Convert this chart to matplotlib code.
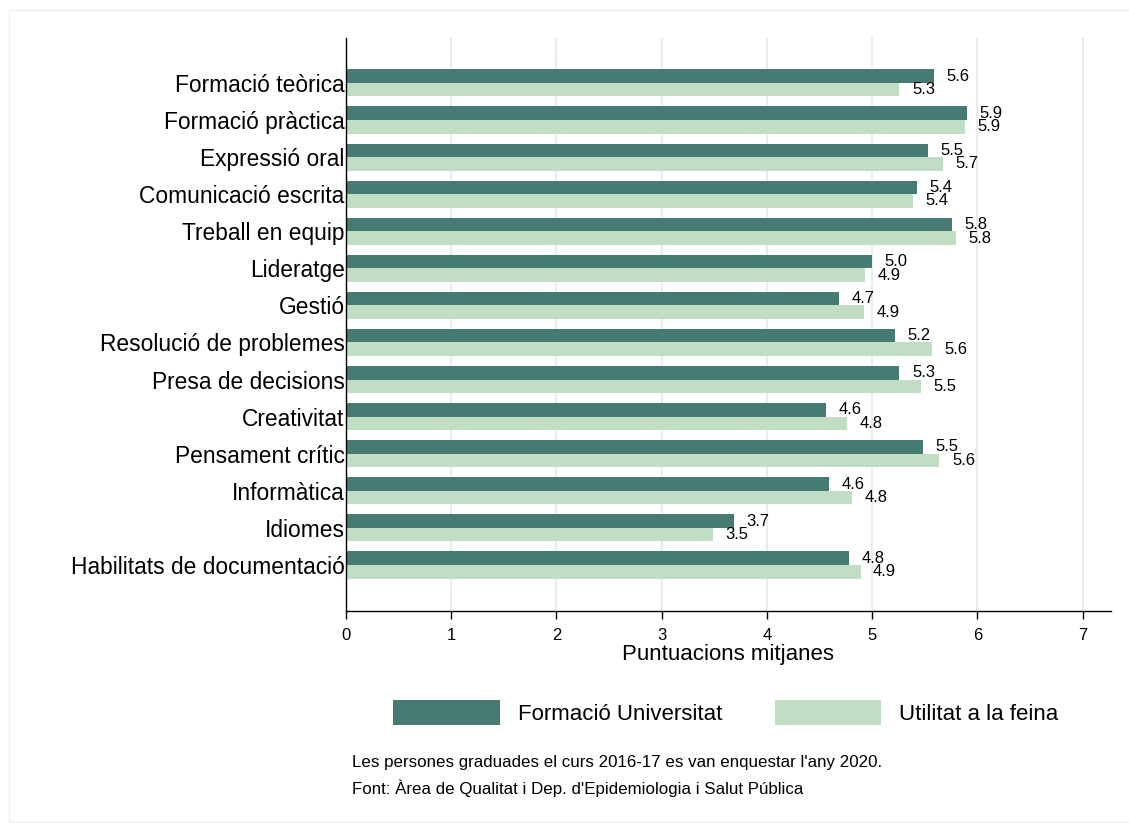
import numpy as np
import matplotlib
matplotlib.use("Agg")
from matplotlib import pyplot as plt
from matplotlib.patches import Patch, Rectangle

plt.rcParams['font.family'] = ['Liberation Sans', 'DejaVu Sans']

categories = ["Formació teòrica", "Formació pràctica", "Expressió oral",
              "Comunicació escrita", "Treball en equip", "Lideratge", "Gestió",
              "Resolució de problemes", "Presa de decisions", "Creativitat",
              "Pensament crític", "Informàtica", "Idiomes",
              "Habilitats de documentació"]
formacio = [5.59, 5.90, 5.53, 5.43, 5.76, 5.00, 4.69, 5.22, 5.26, 4.56, 5.48, 4.59, 3.69, 4.78]
utilitat = [5.26, 5.88, 5.67, 5.39, 5.80, 4.93, 4.92, 5.57, 5.46, 4.76, 5.64, 4.81, 3.49, 4.89]
series_names = ["Formació Universitat", "Utilitat a la feina"]
xticks = [0, 1, 2, 3, 4, 5, 6, 7]
note1 = "Les persones graduades el curs 2016-17 es van enquestar l'any 2020."
note2 = "Font: Àrea de Qualitat i Dep. d'Epidemiologia i Salut Pública"

dark = "#457b73"
light = "#c1dec4"

fig = plt.figure(figsize=(11.29, 8.23), dpi=100)
ax = fig.add_axes([0.3065, 0.2576, 0.984 - 0.3065, 0.9538 - 0.2576])

y = np.arange(len(categories))
h = 0.365
ax.barh(y - h / 2, formacio, height=h, color=dark, zorder=2)
ax.barh(y + h / 2, utilitat, height=h, color=light, zorder=2)

# etiquetes de valor
for yi, v in zip(y, formacio):
    ax.annotate(f"{v:.1f}", (v, yi - h / 2), xytext=(9, 0), textcoords="offset points",
                va="center", ha="left", fontsize=12)
for yi, v in zip(y, utilitat):
    ax.annotate(f"{v:.1f}", (v, yi + h / 2), xytext=(9, 0), textcoords="offset points",
                va="center", ha="left", fontsize=12)

ax.set_yticks(y)
ax.set_yticklabels(categories, fontsize=16.4)
ax.tick_params(axis="y", length=0, pad=1)
ax.set_ylim(14.24, -1.21)

ax.set_xlim(0, 7.27)
ax.set_xticks(xticks)
ax.tick_params(axis="x", length=6, width=1, labelsize=12, pad=6)
ax.set_xlabel("Puntuacions mitjanes", fontsize=16, labelpad=1)

ax.grid(axis="x", color="#e6eeee", linewidth=1.5, zorder=0)
ax.set_axisbelow(True)
for s in ["top", "right"]:
    ax.spines[s].set_visible(False)
ax.spines["left"].set_linewidth(1)
ax.spines["bottom"].set_linewidth(1)

handles = [Patch(facecolor=dark), Patch(facecolor=light)]
fig.legend(handles, series_names, loc="center", bbox_to_anchor=(0.643, 0.1337),
           ncol=2, frameon=False, fontsize=16, handlelength=4.8, handleheight=1.35,
           handletextpad=0.81, columnspacing=2.34)

fig.text(352 / 1129, 1 - 762 / 823, note1, fontsize=12.2, va="center")
fig.text(352 / 1129, 1 - 788 / 823, note2, fontsize=12.2, va="center")

fig.patches.append(Rectangle((9 / 1129, 0.001), 1.0, 1 - 10 / 823 - 0.001,
                             transform=fig.transFigure, fill=False,
                             edgecolor="#eeeeee", linewidth=1))

fig.savefig("out.png", dpi=100)
